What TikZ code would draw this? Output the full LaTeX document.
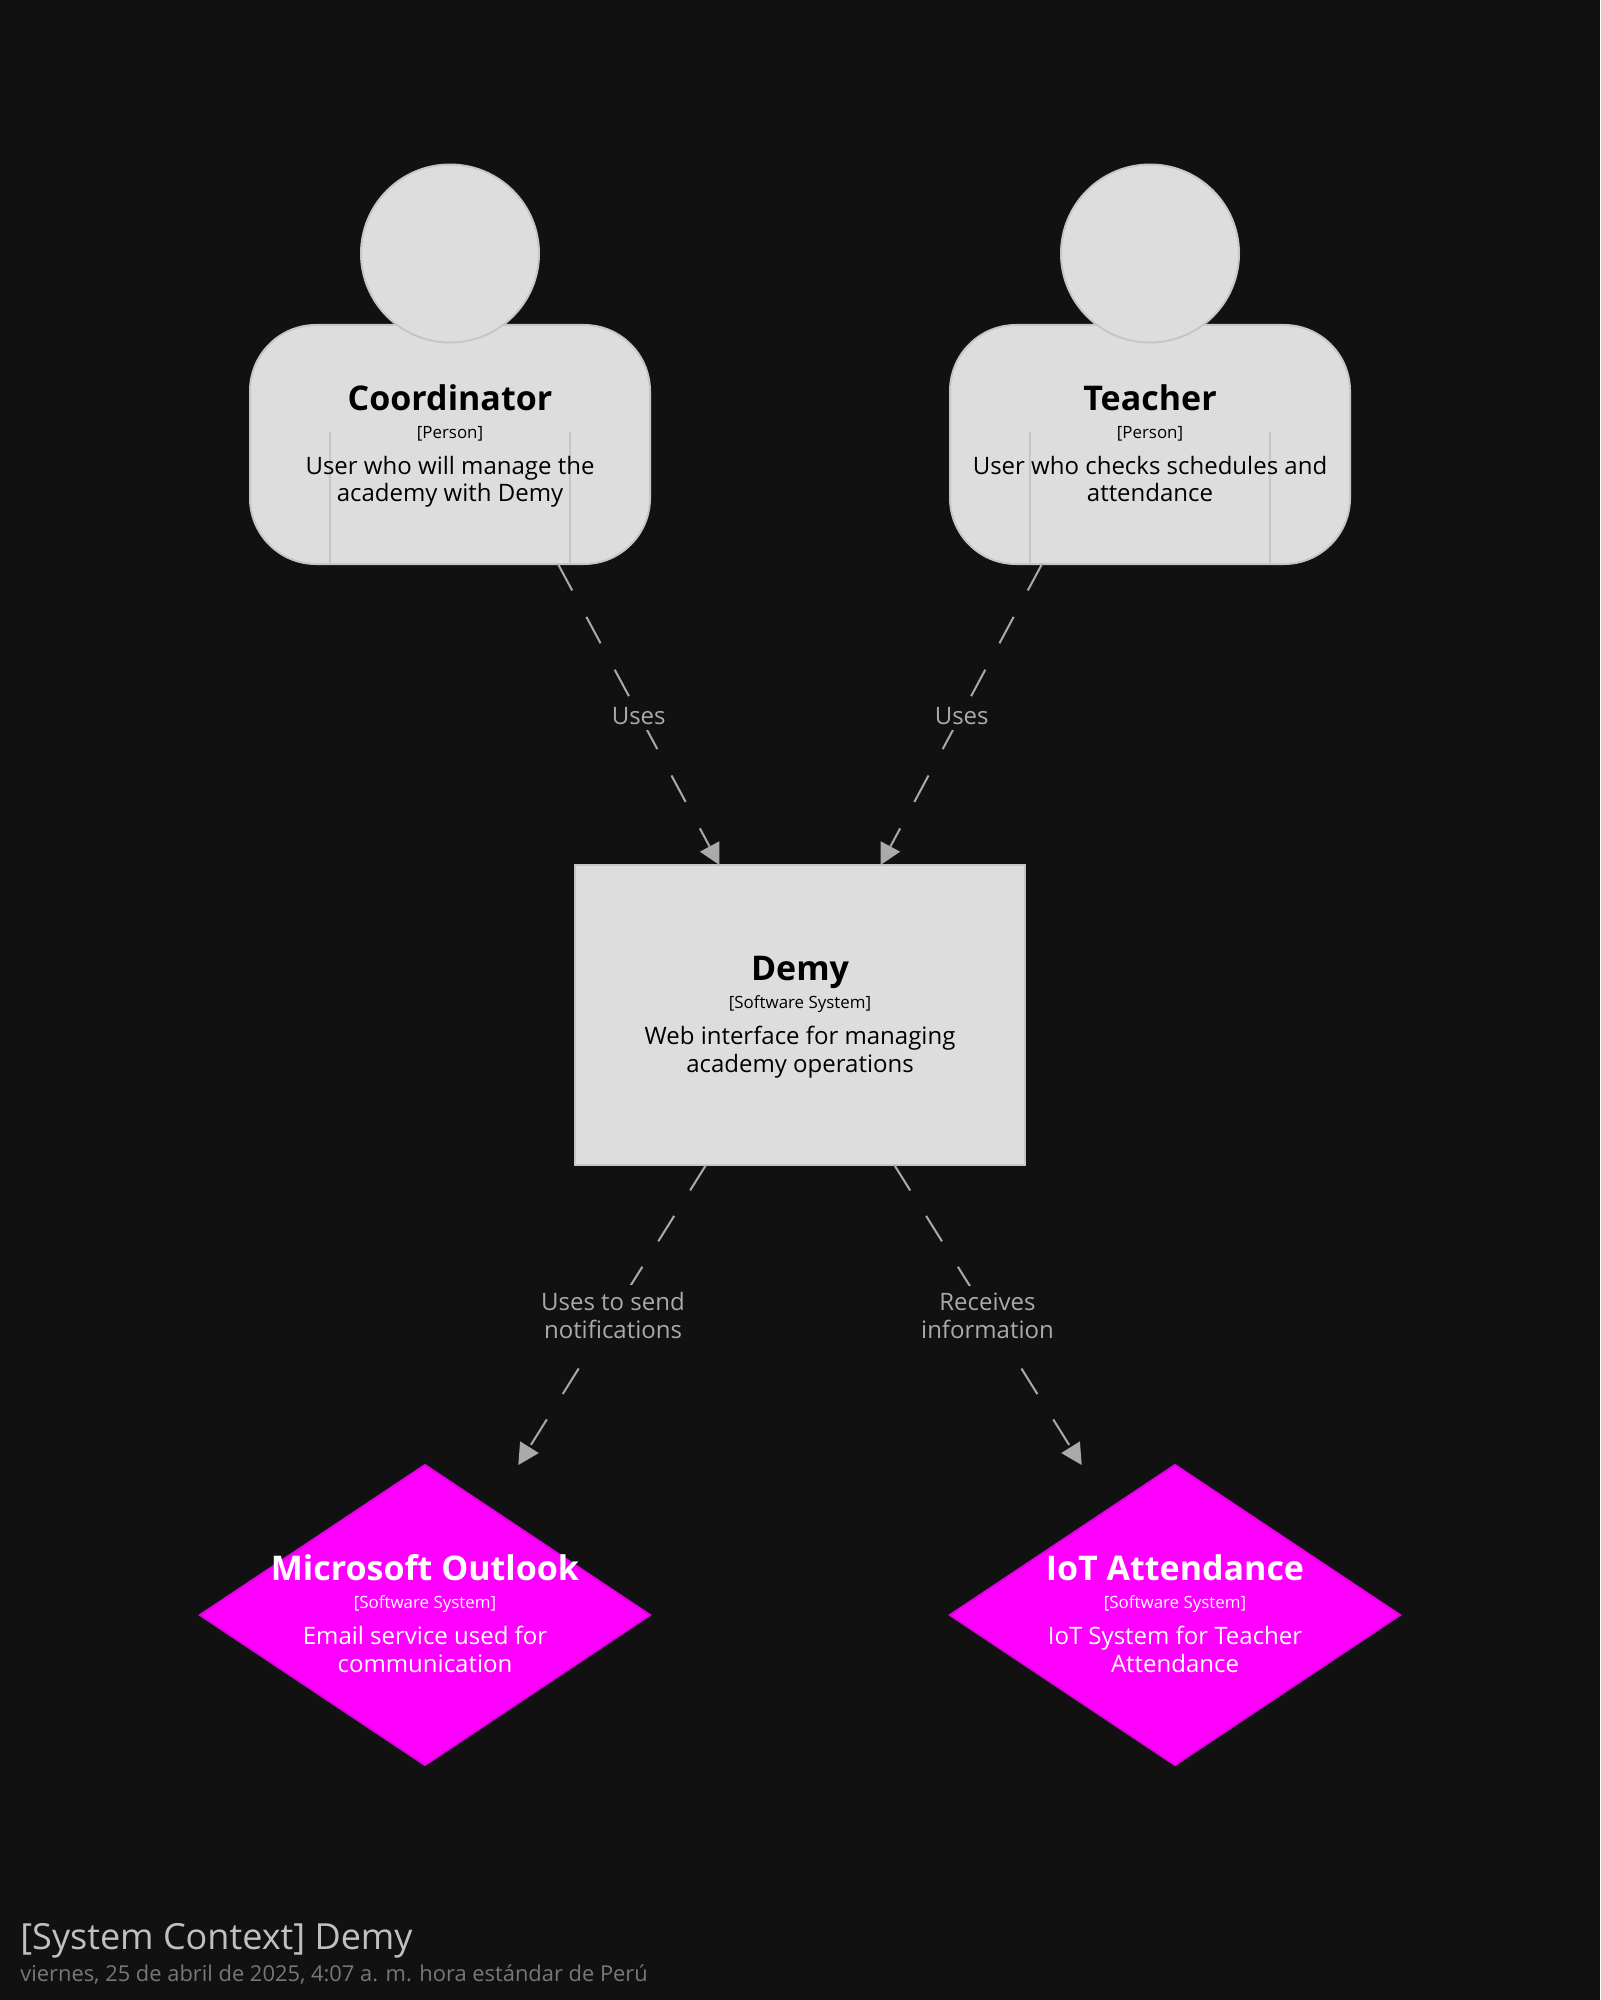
\documentclass[tikz,border=0pt]{standalone}
\usepackage{fontspec}
\setmainfont{Open Sans}
\usetikzlibrary{shapes.geometric,arrows.meta,calc}
\definecolor{bgc}{HTML}{111111}
\definecolor{boxc}{HTML}{DDDDDD}
\definecolor{boxline}{HTML}{C6C6C6}
\definecolor{edgec}{HTML}{AAAAAA}
\definecolor{mag}{HTML}{FF00FF}
\definecolor{magline}{HTML}{E600E6}
\definecolor{titlec}{HTML}{C0C0C0}
\definecolor{subc}{HTML}{777777}
\tikzset{
  x=0.5pt,y=-0.5pt,
  personbody/.style={draw=boxline,fill=boxc,line width=1pt,rounded corners=33pt,minimum width=200pt,minimum height=119.5pt,inner sep=0pt,outer sep=0pt},
  personhead/.style={circle,draw=boxline,fill=boxc,line width=1pt,minimum size=89pt,inner sep=0pt,outer sep=0pt},
  sysbox/.style={draw=boxline,fill=boxc,line width=1pt,minimum width=225pt,minimum height=150pt,inner sep=0pt,outer sep=0pt},
  extsys/.style={diamond,draw=magline,fill=mag,line width=1pt,aspect=1.5,minimum width=225pt,minimum height=150pt,inner sep=0pt,outer sep=0pt},
  ttl/.style={anchor=base,inner sep=0pt,font=\bfseries\fontsize{17}{20}\selectfont},
  meta/.style={anchor=base,inner sep=0pt,font=\fontsize{8.45}{10}\selectfont},
  desc/.style={anchor=base,inner sep=0pt,font=\fontsize{12}{14}\selectfont},
  rel/.style={draw=edgec,line width=1pt,dash pattern=on 15pt off 15pt,-{Triangle[length=10.5pt,width=11pt,line width=0pt]}},
  rellabel/.style={fill=bgc,text=edgec,inner sep=0pt,align=center,font=\fontsize{12}{14}\selectfont},
  divider/.style={draw=boxline,line width=1pt}
}
\begin{document}
\begin{tikzpicture}
\fill[bgc] (0,0) rectangle (1600,2000);
\useasboundingbox (0,0) rectangle (1600,2000);

% Coordinator
\node[personbody] (coord) at (450,444.5) {};
\coordinate (cdA) at (330,432);
\coordinate (cdB) at (570,432);
\draw[divider] (cdA) -- (cdA |- coord.south);
\draw[divider] (cdB) -- (cdB |- coord.south);
\node[personhead] (coordhead) at (450,253.5) {};
\node[ttl] (coordt) at (450,410.5) {Coordinator};
\node[meta] (coordm) at (450,438) {[Person]};
\node[desc] (coordd1) at (450,474) {User who will manage the};
\node[desc] (coordd2) at (450,502) {academy with Demy};

% Teacher
\node[personbody] (teach) at (1150,444.5) {};
\coordinate (tdA) at (1030,432);
\coordinate (tdB) at (1270,432);
\draw[divider] (tdA) -- (tdA |- teach.south);
\draw[divider] (tdB) -- (tdB |- teach.south);
\node[personhead] (teachhead) at (1150,253.5) {};
\node[ttl] (teacht) at (1150,410.5) {Teacher};
\node[meta] (teachm) at (1150,438) {[Person]};
\node[desc] (teachd1) at (1150,474) {User who checks schedules and};
\node[desc] (teachd2) at (1150,502) {attendance};

% Demy
\node[sysbox] (demy) at (800,1015) {};
\node[ttl] (demyt) at (800,980) {Demy};
\node[meta] (demym) at (800,1008) {[Software System]};
\node[desc] (demyd1) at (800,1044) {Web interface for managing};
\node[desc] (demyd2) at (800,1072) {academy operations};

% Outlook
\node[extsys] (outlook) at (425,1615) {};
\node[ttl,text=white] (outt) at (425,1580) {Microsoft Outlook};
\node[meta,text=white] (outm) at (425,1608) {[Software System]};
\node[desc,text=white] (outd1) at (425,1644) {Email service used for};
\node[desc,text=white] (outd2) at (425,1672) {communication};

% IoT
\node[extsys] (iot) at (1175,1615) {};
\node[ttl,text=white] (iott) at (1175,1580) {IoT Attendance};
\node[meta,text=white] (iotm) at (1175,1608) {[Software System]};
\node[desc,text=white] (iotd1) at (1175,1644) {IoT System for Teacher};
\node[desc,text=white] (iotd2) at (1175,1672) {Attendance};

% Connectors
\draw[rel] ([xshift=54pt]coord.south) -- ([xshift=-40.25pt]demy.north);
\draw[rel] ([xshift=-54pt]teach.south) -- ([xshift=40.25pt]demy.north);
\draw[rel] ([xshift=-47pt]demy.south) -- ([xshift=46.65pt]outlook.north);
\draw[rel] ([xshift=47.15pt]demy.south) -- ([xshift=-46.65pt]iot.north);

% Connector labels
\node[rellabel,minimum height=14pt] (l1) at (638.7,716) {Uses};
\node[rellabel,minimum height=14pt] (l2) at (961.7,716) {Uses};
\node[rellabel,minimum height=30pt] (l3) at (613,1315) {Uses to send\\notifications};
\node[rellabel,minimum height=30pt] (l4) at (987.5,1315.5) {Receives\\information};

% Title
\node[anchor=base west,inner sep=0pt,text=titlec,font=\fontsize{18}{22}\selectfont] (title) at (20,1949) {[System Context] Demy};
\node[anchor=base west,inner sep=0pt,text=subc,font=\fontsize{10.94}{13}\selectfont] (subtitle) at (20,1981) {viernes, 25 de abril de 2025, 4:07 a. m. hora estándar de Perú};
\end{tikzpicture}
\end{document}
